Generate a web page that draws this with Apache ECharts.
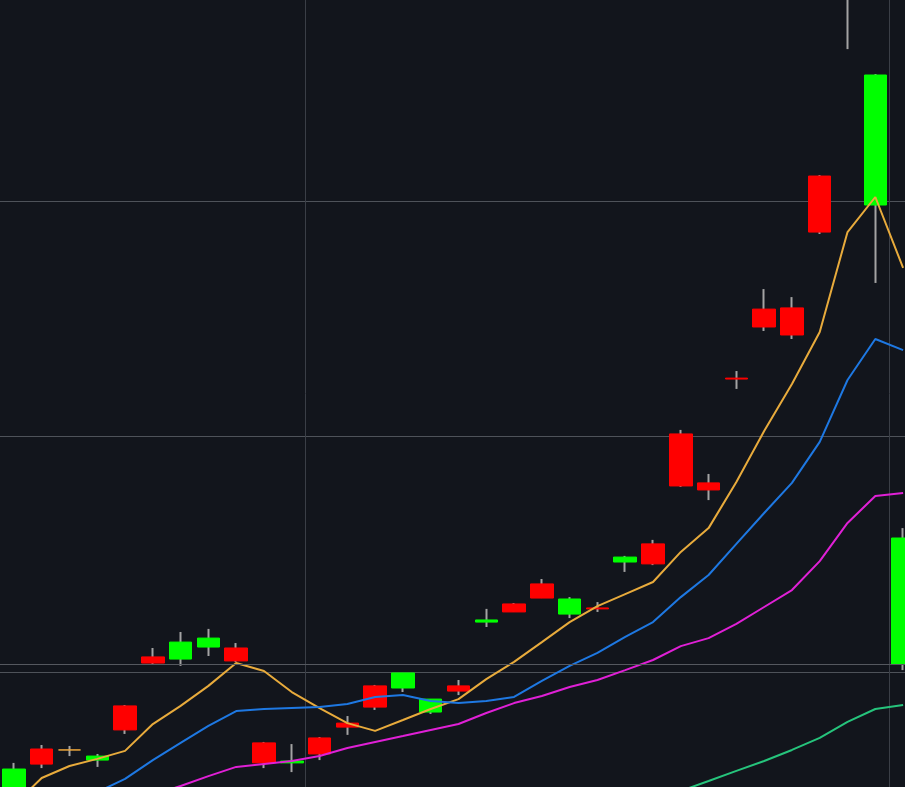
<!DOCTYPE html>
<html>
<head>
<meta charset="utf-8">
<script src="https://cdn.jsdelivr.net/npm/echarts@6/dist/echarts.min.js"></script>
<style>
  html, body { margin: 0; padding: 0; background: #12151c; }
  #kline { width: 905px; height: 787px; }
</style>
</head>
<body>
<div id="kline"></div>
<script>
  // candle days (only position matters, the axis has no labels)
  var categories = ['1', '2', '3', '4', '5', '6', '7', '8', '9', '10', '11',
    '12', '13', '14', '15', '16', '17', '18', '19', '20', '21', '22',
    '23', '24', '25', '26', '27', '28', '29', '30', '31', '32', '33'];

  var opens  = [95.88, 96.09, 96.69, 96.43, 97.54, 100.38, 101.27, 101.44, 100.47, 96.14, 96.22,
    96.52, 97.66, 98.51, 99.96, 98.85, 99.19, 102.21, 102.55, 103.14, 103.10, 102.68,
    104.88, 104.59, 107.90, 107.73, 112.44, 114.65, 114.31, 118.68, 134.90, 125.35, 105.69];
  var closes = [94.90, 96.73, 96.69, 96.26, 98.56, 100.64, 100.55, 101.06, 101.02, 96.99, 96.14,
    97.20, 97.83, 99.41, 99.32, 98.30, 99.41, 102.12, 102.89, 103.74, 102.46, 102.72,
    104.67, 105.44, 110.11, 108.03, 112.48, 115.41, 115.46, 121.06, 129.05, 119.83, 100.34];
  var lows   = [94.78, 95.92, 96.43, 95.97, 97.37, 100.34, 100.26, 100.68, 100.42, 95.92, 95.75,
    96.26, 97.33, 98.39, 99.15, 98.22, 99.02, 101.91, 102.55, 103.14, 102.29, 102.55,
    104.25, 104.54, 107.86, 107.30, 112.02, 114.48, 114.14, 118.60, 126.45, 116.52, 100.08];
  var highs  = [96.14, 96.90, 96.86, 96.52, 98.60, 101.02, 101.70, 101.83, 101.23, 97.03, 96.94,
    97.24, 98.13, 99.45, 99.96, 98.85, 99.66, 102.68, 102.93, 103.95, 103.18, 102.97,
    104.93, 105.61, 110.28, 108.41, 112.78, 116.26, 115.92, 121.10, 135.75, 125.39, 106.11];

  var ma5  = [94.35, 95.50, 96.01, 96.31, 96.65, 97.79, 98.56, 99.41, 100.38, 100.04, 99.15,
    98.47, 97.83, 97.50, 97.96, 98.43, 98.85, 99.70, 100.43, 101.27, 102.12, 102.80,
    103.31, 103.82, 105.10, 106.11, 108.07, 110.23, 112.23, 114.44, 118.68, 120.17, 117.16];
  var ma10 = [94.06, 94.31, 94.56, 94.90, 95.46, 96.26, 96.99, 97.71, 98.34, 98.43, 98.47,
    98.51, 98.64, 98.94, 99.02, 98.77, 98.68, 98.77, 98.94, 99.62, 100.26, 100.81,
    101.49, 102.12, 103.18, 104.12, 105.44, 106.75, 108.03, 109.77, 112.40, 114.14, 113.67];
  var ma20 = [93.29, 93.59, 93.89, 94.14, 94.44, 94.78, 95.16, 95.58, 95.97, 96.09, 96.22,
    96.43, 96.77, 97.03, 97.28, 97.54, 97.79, 98.26, 98.68, 98.98, 99.36, 99.66,
    100.08, 100.51, 101.10, 101.44, 102.04, 102.76, 103.48, 104.71, 106.33, 107.47, 107.60];
  var ma60 = [null, null, null, null, null, null, null, null, null, null, null,
    null, null, null, null, null, null, null, null, null, null, null,
    null, 94.56, 94.95, 95.37, 95.80, 96.22, 96.69, 97.20, 97.88, 98.43, 98.60];

  var chart = echarts.init(document.getElementById('kline'));

  var candles = categories.map(function (c, i) {
    return [opens[i], closes[i], lows[i], highs[i]];
  });
  // bodies only, the wicks come from the grey series underneath
  var bodies = categories.map(function (c, i) {
    return [opens[i], closes[i], Math.min(opens[i], closes[i]), Math.max(opens[i], closes[i])];
  });

  function maLine(name, data, color) {
    return {
      name: name,
      type: 'line',
      data: data,
      symbol: 'none',
      smooth: false,
      lineStyle: {width: 2, color: color},
      z: 3
    };
  }

  var option = {
    backgroundColor: '#12151c',
    animation: false,
    // the plot runs past the window on the right, top and bottom
    grid: {left: 0, width: 917, top: -34.5, height: 942, outerBoundsMode: 'none', containLabel: false},
    xAxis: {
      type: 'category',
      data: categories,
      boundaryGap: true,
      axisLine: {show: false},
      axisTick: {show: false},
      axisLabel: {show: false},
      splitLine: {
        show: true,
        interval: function (index) { return index === 11 || index === 32; },
        lineStyle: {color: '#3a3e46', width: 1}
      }
    },
    yAxis: {
      type: 'value',
      min: 90,
      max: 130,
      interval: 10,
      axisLine: {show: false},
      axisTick: {show: false},
      axisLabel: {show: false},
      splitLine: {show: true, lineStyle: {color: '#4e5259', width: 1}}
    },
    series: [
      {
        name: 'wick',
        type: 'candlestick',
        data: candles,
        barWidth: 1,
        itemStyle: {
          color: '#a3a3a3', color0: '#a3a3a3',
          borderColor: '#a3a3a3', borderColor0: '#a3a3a3', borderColorDoji: '#a3a3a3',
          borderWidth: 2
        },
        z: 2
      },
      {
        name: 'K',
        type: 'candlestick',
        data: bodies,
        barWidth: 23,
        itemStyle: {
          color: '#ff0000', color0: '#00ff00',
          borderColor: '#ff0000', borderColor0: '#00ff00', borderColorDoji: '#f0a83c',
          borderWidth: 1
        },
        markLine: {
          silent: true,
          symbol: ['none', 'none'],
          label: {show: false},
          lineStyle: {color: '#55585f', type: 'solid', width: 1},
          data: [{yAxis: closes[closes.length - 1]}]
        },
        z: 2
      },
      maLine('MA5', ma5, '#e8ab3c'),
      maLine('MA10', ma10, '#1e78e2'),
      maLine('MA20', ma20, '#e020d6'),
      maLine('MA60', ma60, '#26c47c')
    ]
  };

  chart.setOption(option);
</script>
</body>
</html>
